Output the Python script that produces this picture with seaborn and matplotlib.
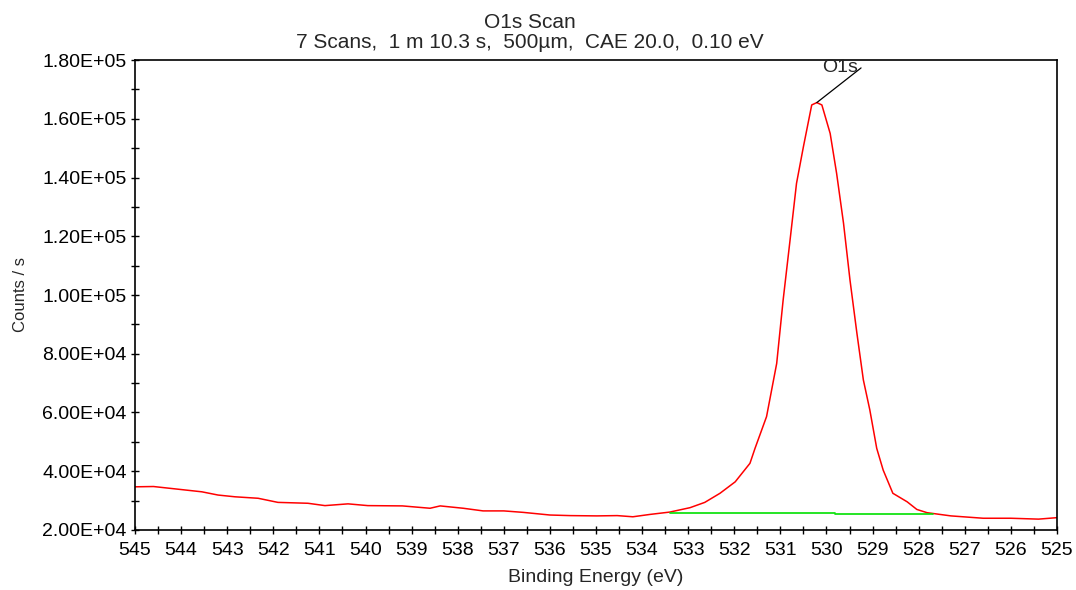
import numpy as np
import pandas as pd
import matplotlib
matplotlib.use("Agg")
import matplotlib.pyplot as plt
import matplotlib.ticker as mticker
import seaborn as sns

# Spectrum (binding energy eV, counts/s)
energy = [545.0, 544.6, 543.9, 543.55, 543.2, 542.83, 542.33, 541.9, 541.25, 540.88,
          540.38, 539.95, 539.2, 538.6, 538.38, 537.88, 537.45, 537.0, 536.58, 536.0,
          535.56, 534.98, 534.54, 534.2, 533.83, 533.4, 532.96, 532.64, 532.31, 531.98,
          531.66, 531.55, 531.3, 531.08, 530.94, 530.79, 530.65, 530.5, 530.32, 530.21,
          530.1, 529.92, 529.78, 529.63, 529.49, 529.34, 529.2, 529.06, 528.91, 528.77,
          528.56, 528.25, 528.04, 527.82, 527.3, 526.6, 526.0, 525.4, 525.0]
counts = [34700, 34800, 33600, 33000, 31900, 31300, 30800, 29400, 29100, 28300,
          28900, 28300, 28200, 27400, 28200, 27400, 26500, 26500, 26000, 25100,
          24900, 24800, 24900, 24500, 25300, 26100, 27600, 29400, 32500, 36400,
          42700, 47800, 58600, 76700, 98300, 118700, 138000, 150500, 164700, 165500,
          164700, 155000, 141400, 124400, 105100, 87000, 71100, 60900, 47800, 40400,
          32500, 29600, 27000, 25900, 24800, 24000, 24000, 23700, 24200]

# Background (baseline) segments
bg_energy = [533.39, 529.82, 529.82, 527.69]
bg_counts = [25700, 25700, 25300, 25300]

peak_label = "O1s"
peak_pos = (530.21, 165500)
line_end = (529.25, 177300)
label_pos = (529.7, 177300)

title_line1 = "O1s Scan"
title_line2 = "7 Scans,  1 m 10.3 s,  500\u00b5m,  CAE 20.0,  0.10 eV"
xlabel = "Binding Energy (eV)"
ylabel = "Counts / s"

sns.set_style("ticks")
plt.rcParams["font.family"] = ["Liberation Sans", "DejaVu Sans"]

fig = plt.figure(figsize=(10.76, 5.90), dpi=100)
ax = fig.add_axes([0.1255, 0.1017, 0.8568, 0.7966])

df = pd.DataFrame({"energy": energy, "counts": counts})
sns.lineplot(data=df, x="energy", y="counts", ax=ax, color="#ff0000", linewidth=1.1,
             sort=False, estimator=None)
for i in range(0, len(bg_energy), 2):
    ax.plot(bg_energy[i:i+2], bg_counts[i:i+2], color="#00e000", linewidth=1.2)

ax.annotate("", xy=peak_pos, xytext=line_end,
            arrowprops=dict(arrowstyle="-", color="black", lw=0.9,
                            shrinkA=0, shrinkB=0))
ax.text(label_pos[0], label_pos[1], peak_label, ha="center", va="center", fontsize=14)

ax.set_xlim(545, 525)
ax.set_ylim(20000, 180000)
ax.xaxis.set_major_locator(mticker.MultipleLocator(1))
ax.xaxis.set_minor_locator(mticker.MultipleLocator(0.5))
ax.yaxis.set_major_locator(mticker.MultipleLocator(20000))
ax.yaxis.set_minor_locator(mticker.MultipleLocator(10000))
ax.yaxis.set_major_formatter(mticker.FuncFormatter(lambda v, p: "{:.2E}".format(v)))

ax.tick_params(axis="x", which="both", direction="inout", length=6, width=1, pad=6,
               labelsize=14, colors="black")
ax.tick_params(axis="y", which="both", direction="inout", length=6, width=1, pad=3,
               labelsize=14, colors="black")
for s in ax.spines.values():
    s.set_visible(True)
    s.set_color("black")
    s.set_linewidth(1.2)

ax.set_xlabel(xlabel, fontsize=14)
ax.xaxis.label.set_va("center")
ax.xaxis.set_label_coords(0.5, -0.102)
ax.set_ylabel(ylabel, fontsize=12)
ax.yaxis.label.set_va("center")
ax.yaxis.set_label_coords(-0.124, 0.5)

fig.text(530 / 1076, 1 - 22 / 590, title_line1, ha="center", va="center", fontsize=15)
fig.text(530 / 1076, 1 - 42 / 590, title_line2, ha="center", va="center", fontsize=15)

fig.savefig("out.png", dpi=100)
